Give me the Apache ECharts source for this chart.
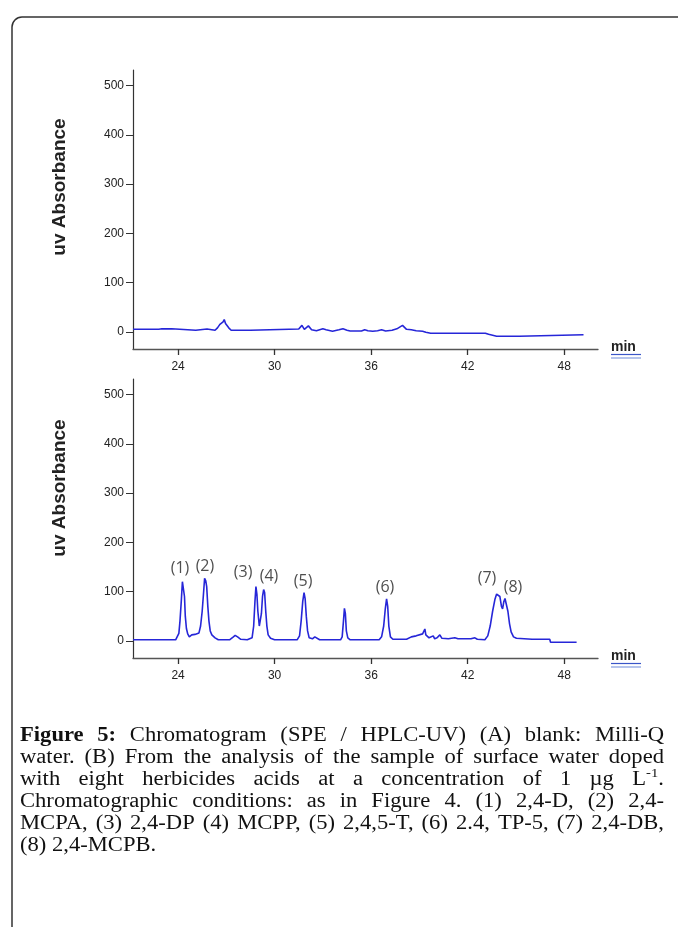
<!DOCTYPE html>
<html>
<head>
<meta charset="utf-8">
<script src="https://cdn.jsdelivr.net/npm/echarts@6/dist/echarts.min.js"></script>
<style>
html,body{margin:0;padding:0;background:#fff;}
#chart{width:678px;height:927px;}
</style>
</head>
<body>
<div id="chart"></div>
<script>
// ---------- data ----------
const xTicks = [24, 30, 36, 42, 48];
const yTicks = [0, 100, 200, 300, 400, 500];

// (A) blank: time (min), UV absorbance
const blankTrace = [
  [21.2,5],[22.8,5],[22.9,7],[23.0,6],[23.6,6],[23.7,3],[25.1,3],[25.2,5.5],[25.8,5.5],[25.9,3],
  [26.3,3],[26.45,8],[26.55,10],[26.6,15],[26.7,12],[26.8,20],[26.87,25],[26.95,17],[27.05,14],
  [27.15,8],[27.3,3],[28.5,3],[28.6,5.5],[31.5,5.5],[31.7,13],[31.85,5],[32.1,12],[32.3,4],
  [32.6,2],[33.0,6],[33.2,4],[33.6,1],[34.0,4],[34.25,6],[34.5,3],[34.7,1.5],[35.4,1.5],[35.6,4],
  [35.8,2],[36.1,1],[36.4,2],[36.65,4],[36.9,1.5],[37.3,3],[37.6,6],[37.95,13],[38.2,5],[38.5,4],
  [38.8,2],[39.2,1],[39.4,-1],[39.7,-3],[43.1,-3],[43.3,-5],[43.8,-9],[45.2,-9],[45.3,-6],[49.2,-6]
];

// (B) spiked surface water sample
const sampleTrace = [
  [21.2,2],[23.85,2],[23.95,5],[24.05,15],[24.12,40],[24.2,80],[24.27,120],[24.33,117],[24.4,90],
  [24.45,50],[24.52,25],[24.6,14],[24.7,8],[24.85,12],[24.95,8],[25.05,13],[25.15,10],[25.3,16],
  [25.4,30],[25.5,60],[25.58,95],[25.65,127],[25.72,122],[25.78,110],[25.85,70],[25.92,40],
  [26.0,20],[26.1,12],[26.3,6],[26.5,2],[27.2,2],[27.4,7],[27.55,11],[27.7,8],[27.9,3],[28.3,2],
  [28.6,6],[28.7,30],[28.78,80],[28.84,110],[28.9,95],[28.96,60],[29.05,30],[29.1,26],[29.18,55],
  [29.25,90],[29.32,104],[29.38,98],[29.45,60],[29.52,30],[29.6,12],[29.75,5],[30.0,2],[31.4,2],
  [31.55,10],[31.65,40],[31.75,80],[31.83,98],[31.9,85],[31.97,50],[32.05,20],[32.15,6],[32.35,4],
  [32.5,8],[32.6,4],[32.8,2],[34.1,2],[34.2,8],[34.28,40],[34.34,66],[34.4,55],[34.46,20],[34.55,6],
  [34.7,2],[36.5,2],[36.65,8],[36.78,30],[36.88,65],[36.96,85],[37.03,70],[37.1,30],[37.2,8],
  [37.35,3],[38.2,3],[38.5,8],[38.8,10],[39.2,14],[39.34,24],[39.4,12],[39.5,8],[39.6,6],[39.86,10],
  [39.95,4],[40.1,6],[40.27,12],[40.4,5],[40.8,4],[41.2,6],[41.4,4],[42.2,4],[42.45,6],[42.6,3],
  [43.07,2],[43.25,10],[43.4,30],[43.55,60],[43.7,85],[43.8,95],[43.9,98],[44.0,90],[44.1,70],
  [44.17,65],[44.25,80],[44.32,86],[44.4,82],[44.5,60],[44.6,35],[44.7,18],[44.85,8],[45.03,5],
  [46.0,3],[47.1,3],[47.15,-3],[48.77,-3]
];

// peak annotation labels: text, time, absorbance
const peakNames = ['(1)','(2)','(3)','(4)','(5)','(6)','(7)','(8)'];
const peakLabelTimes = [24.12, 25.67, 28.04, 29.65, 31.77, 36.86, 43.2, 44.82];
const peakLabelValues = [146, 152, 138, 130, 120, 109, 126, 109];

const yAxisTitle = 'uv Absorbance';
const xUnit = 'min';

const captionLines = [
  '**Figure** **5:** Chromatogram (SPE / HPLC-UV) (A) blank: Milli-Q',
  'water. (B) From the analysis of the sample of surface water doped',
  'with eight herbicides acids at a concentration of 1 µg L^{-1}.',
  'Chromatographic conditions: as in Figure 4. (1) 2,4-D, (2) 2,4-',
  'MCPA, (3) 2,4-DP (4) MCPP, (5) 2,4,5-T, (6) 2.4, TP-5, (7) 2,4-DB,',
  '(8) 2,4-MCPB.'
];

// ---------- layout ----------
const X_MIN = 21.2, X_MAX = 50.1, Y_MIN = -35, Y_MAX = 532;
const LINE_COLOR = '#2626d8';
const AX_COLOR = '#555';
const SANS = 'Arial, "Liberation Sans", sans-serif';
const SERIF = '"Liberation Serif", serif';

function xAxisCfg(gi){
  return {
    type:'value', gridIndex:gi, min:X_MIN, max:X_MAX,
    axisLine:{show:true, onZero:false, lineStyle:{color:AX_COLOR, width:1.3}},
    axisTick:{show:true, length:6, customValues:xTicks, lineStyle:{color:'#333', width:1.3}},
    axisLabel:{show:true, customValues:xTicks, margin:12, color:'#222', fontSize:12, fontFamily:SANS},
    splitLine:{show:false}
  };
}
function yAxisCfg(gi){
  return {
    type:'value', gridIndex:gi, min:Y_MIN, max:Y_MAX,
    axisLine:{show:true, onZero:false, lineStyle:{color:'#333', width:1.2}},
    axisTick:{show:true, length:7, customValues:yTicks, lineStyle:{color:'#333', width:1}},
    axisLabel:{show:true, customValues:yTicks, margin:9, color:'#222', fontSize:12, fontFamily:SANS},
    splitLine:{show:false}
  };
}

// ---------- caption layout (justified) ----------
const mctx = document.createElement('canvas').getContext('2d');
const CAP_SIZE = 20, SUP_SIZE = 13, CAP_SX = 1.13, CAP_LEFT = 20, CAP_W = 644, CAP_TOP = 736, CAP_LH = 22;
function fontOf(bold, sup){ return (bold?'bold ':'') + (sup?SUP_SIZE:CAP_SIZE) + 'px ' + SERIF; }
function parseWord(word){
  let bold = false;
  if (word.startsWith('**') && word.endsWith('**')) { bold = true; word = word.slice(2,-2); }
  const out = []; const re = /\^\{([^}]*)\}/g; let last = 0, m;
  while ((m = re.exec(word))) {
    if (m.index > last) out.push({text:word.slice(last,m.index), sup:false, bold});
    out.push({text:m[1], sup:true, bold}); last = re.lastIndex;
  }
  if (last < word.length) out.push({text:word.slice(last), sup:false, bold});
  out.forEach(s => { mctx.font = fontOf(s.bold, s.sup); s.w = mctx.measureText(s.text).width * CAP_SX; });
  return out;
}
const captionGraphics = [];
captionLines.forEach((line, i) => {
  const words = line.split(' ').map(parseWord);
  const widths = words.map(ws => ws.reduce((a,s)=>a+s.w,0));
  const total = widths.reduce((a,b)=>a+b,0);
  mctx.font = fontOf(false,false);
  const space = mctx.measureText(' ').width * CAP_SX;
  const last = i === captionLines.length - 1;
  const gap = last ? space : (CAP_W - total) / (words.length - 1);
  let x = CAP_LEFT;
  const y = CAP_TOP + i * CAP_LH;
  words.forEach((ws) => {
    ws.forEach(s => {
      captionGraphics.push({
        type:'text', x:x, y: s.sup ? y - 6 : y, scaleX:CAP_SX,
        style:{text:s.text, font:fontOf(s.bold, s.sup), fill:'#111', verticalAlign:'middle', align:'left'}
      });
      x += s.w;
    });
    x += gap;
  });
});

function unitLabel(yText){
  return [
    {type:'text', x:611, y:yText, style:{text:xUnit, font:'bold 14px ' + SANS, fill:'#222', verticalAlign:'middle'}},
    {type:'line', shape:{x1:611, y1:yText+7.5, x2:641, y2:yText+7.5}, style:{stroke:'#3a56c8', lineWidth:1.2}},
    {type:'line', shape:{x1:611, y1:yText+11, x2:641, y2:yText+11}, style:{stroke:'#9db0e6', lineWidth:1.5}}
  ];
}

const chart = echarts.init(document.getElementById('chart'), null, {renderer:'canvas'});
chart.setOption({
  backgroundColor:'#fff',
  animation:false,
  grid:[
    {left:133, right:80, top:70, height:279},
    {left:133, right:80, top:379, height:279}
  ],
  xAxis:[xAxisCfg(0), xAxisCfg(1)],
  yAxis:[yAxisCfg(0), yAxisCfg(1)],
  series:[
    {type:'line', xAxisIndex:0, yAxisIndex:0, data:blankTrace, showSymbol:false, symbol:'none',
     lineStyle:{color:LINE_COLOR, width:1.6}},
    {type:'line', xAxisIndex:1, yAxisIndex:1, data:sampleTrace, showSymbol:false, symbol:'none',
     lineStyle:{color:LINE_COLOR, width:1.6}},
    {type:'scatter', xAxisIndex:1, yAxisIndex:1, symbolSize:1,
     itemStyle:{color:'rgba(0,0,0,0)'},
     data: peakNames.map((n,i)=>({name:n, value:[peakLabelTimes[i], peakLabelValues[i]]})),
     label:{show:true, position:'inside', formatter:'{b}', color:'#222', fontSize:16,
            fontFamily:'"Open Sans", "Noto Sans", sans-serif'}}
  ],
  graphic:[
    {type:'rect', shape:{x:12, y:17, width:720, height:1000, r:10},
     style:{fill:'none', stroke:'#333', lineWidth:1.5}},
    {type:'text', x:60, y:187, rotation:Math.PI/2,
     style:{text:yAxisTitle, font:'bold 19px ' + SANS, fill:'#222', align:'center', verticalAlign:'middle'}},
    {type:'text', x:60, y:488, rotation:Math.PI/2,
     style:{text:yAxisTitle, font:'bold 19px ' + SANS, fill:'#222', align:'center', verticalAlign:'middle'}},
    ...unitLabel(347),
    ...unitLabel(656),
    ...captionGraphics
  ]
});
</script>
</body>
</html>
